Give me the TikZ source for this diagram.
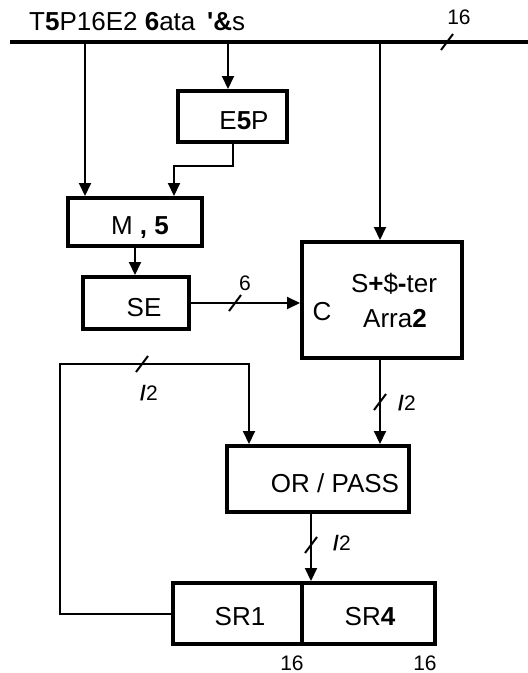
\documentclass[tikz,border=0pt]{standalone}
\usepackage{fontspec}
\setmainfont{Liberation Sans}
\usetikzlibrary{arrows.meta,calc}
\begin{document}
\begin{tikzpicture}[x=1pt,y=-1pt,
  box/.style={draw,line width=4pt,inner sep=0pt,outer sep=2pt},
  conn/.style={line width=2pt},
  arr/.style={conn,-{Triangle[length=13pt,width=12pt]}},
  txt/.style={font=\fontsize{26}{30}\selectfont,inner sep=0pt,anchor=base},
  small/.style={font=\fontsize{21}{25}\selectfont,inner sep=0pt,anchor=base},
  tick/.style={line width=2pt}]
\useasboundingbox (0,0) rectangle (528,673);

% bus
\coordinate (busL) at (10,42);
\coordinate (busR) at (528,42);
\draw[line width=4.5pt] (busL) -- (busR);
\node[txt,anchor=base west] (bustxt) at (29,30) {T\textbf{5}P16E2 \textbf{6}ata\hspace{0.45em}\textbf{\textquotesingle\&}s};
\coordinate (s0) at (447,42);
\draw[tick] ($(s0)+(-6,8)$) -- ($(s0)+(6,-8)$);
\node[small] (l16a) at (459,24) {16};

% boxes
\node[box,minimum width=109pt,minimum height=51pt] (esp) at (232.5,116.5) {};
\node[txt] (esptxt) at (244,129) {E\textbf{5}P};
\node[box,minimum width=134pt,minimum height=48pt] (m5) at (135,222) {};
\node[txt] (m5txt) at (140,234) {M \textbf{, 5}};
\node[box,minimum width=106pt,minimum height=52pt] (se) at (136,303) {};
\node[txt] (setxt) at (144,316) {SE};
\node[box,minimum width=160pt,minimum height=116pt] (sh) at (382,300) {};
\node[txt] (shtxt1) at (394,292) {S\textbf{+}\$\textbf{-}ter};
\node[txt] (shtxt2) at (395,327) {Arra\textbf{2}};
\node[txt] (shc) at (322,320) {C};
\node[box,minimum width=182pt,minimum height=66pt] (or) at (318,479) {};
\node[txt] (ortxt) at (335,492) {OR / PASS};
\node[box,minimum width=129pt,minimum height=61pt] (sr1) at (237.5,613.5) {};
\node[box,minimum width=133pt,minimum height=61pt] (sr4) at (368.5,613.5) {};
\node[txt] (sr1txt) at (240,625) {SR1};
\node[txt] (sr4txt) at (370,625) {SR\textbf{4}};
\node[small] (l16b) at (292,670) {16};
\node[small] (l16c) at (425,670) {16};

% bus drops
\coordinate (b1) at (85,42);
\coordinate (b2) at (228,42);
\coordinate (b3) at (380,42);
\draw[arr] (b1) -- (b1 |- m5.north);
\draw[arr] (b2) -- (b2 |- esp.north);
\draw[arr] (b3) -- (b3 |- sh.north);

% E5P -> M,5
\coordinate (j1) at (174,166);
\draw[arr] (esp.south) |- (j1) -- (j1 |- m5.north);
% M,5 -> SE
\draw[arr] (m5.south) -- (m5.south |- se.north);
% SE -> shifter
\draw[arr] (se.east) -- (se.east -| sh.west);
\coordinate (s1) at (235,303);
\draw[tick] ($(s1)+(-6,8)$) -- ($(s1)+(6,-8)$);
\node[small] (l6) at (245,290) {6};

% shifter -> OR/PASS
\draw[arr] (b3 |- sh.south) -- (b3 |- or.north);
\coordinate (s2) at (380,402);
\draw[tick] ($(s2)+(-6,8)$) -- ($(s2)+(6,-8)$);
\node[small] (l2a) at (407,410) {\textbf{/}2};

% feedback
\coordinate (fb1) at (60,613.5);
\coordinate (fb2) at (60,364);
\coordinate (fb3) at (249,364);
\draw[arr] (sr1.west) -- (fb1) -- (fb2) -- (fb3) -- (fb3 |- or.north);
\coordinate (s3) at (142,364);
\draw[tick] ($(s3)+(-6,8)$) -- ($(s3)+(6,-8)$);
\node[small] (l2b) at (149,400) {\textbf{/}2};

% OR/PASS -> SR
\coordinate (c4) at (311,545);
\draw[arr] (c4 |- or.south) -- (c4 |- sr1.north);
\draw[tick] ($(c4)+(-6,8)$) -- ($(c4)+(6,-8)$);
\node[small] (l2c) at (342,550) {\textbf{/}2};
\end{tikzpicture}
\end{document}
